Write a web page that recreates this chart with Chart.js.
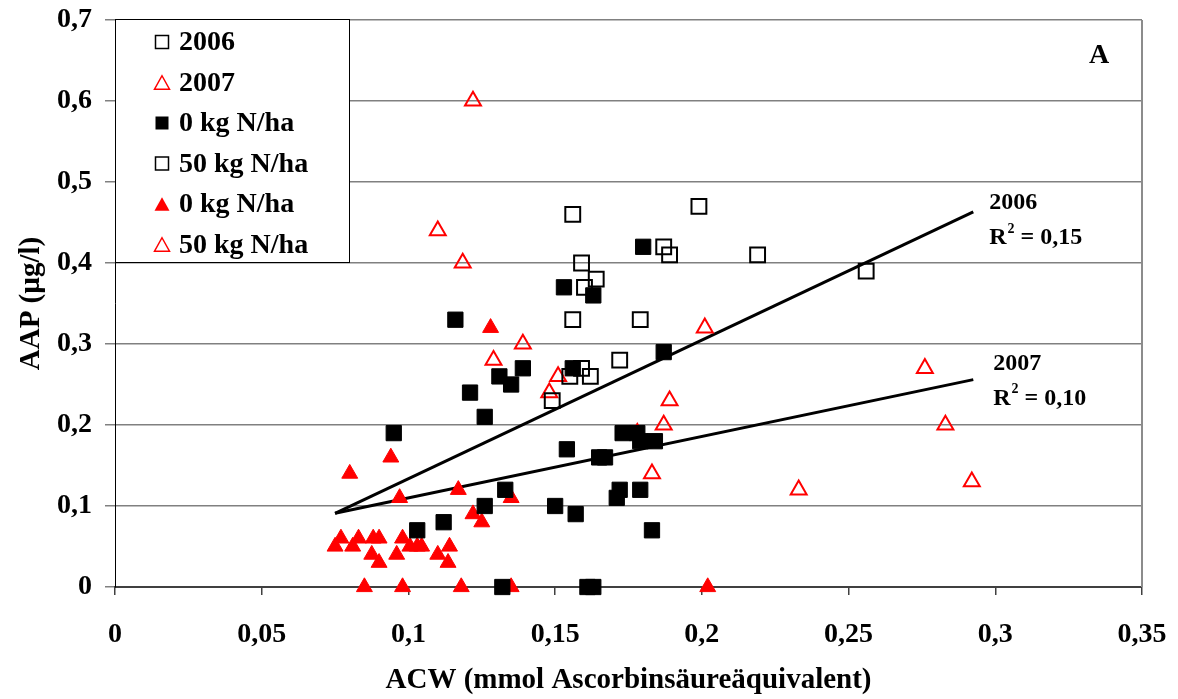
<!DOCTYPE html>
<html>
<head>
<meta charset="utf-8">
<script src="https://cdn.jsdelivr.net/npm/chart.js@4"></script>
<style>
  body { margin: 0; background: #fff; }
  #wrap { width: 1178px; height: 699px; }
</style>
</head>
<body>
<div id="wrap"><canvas id="aapChart"></canvas></div>
<script>
// ACW (x) vs AAP (y)
const x2006n0 = [0.116, 0.139, 0.131, 0.135, 0.121, 0.126, 0.095, 0.156, 0.153, 0.163, 0.180, 0.187, 0.154, 0.165, 0.167, 0.173, 0.178, 0.179, 0.184, 0.172, 0.171, 0.179, 0.133, 0.126, 0.112, 0.103, 0.150, 0.157, 0.183, 0.132, 0.161, 0.163];
const y2006n0 = [0.33, 0.27, 0.26, 0.25, 0.24, 0.21, 0.19, 0.27, 0.37, 0.36, 0.42, 0.29, 0.17, 0.16, 0.16, 0.19, 0.19, 0.18, 0.18, 0.12, 0.11, 0.12, 0.12, 0.10, 0.08, 0.07, 0.10, 0.09, 0.07, 0, 0, 0];

const x2006n50 = [0.156, 0.199, 0.187, 0.189, 0.159, 0.164, 0.160, 0.219, 0.256, 0.156, 0.179, 0.172, 0.159, 0.155, 0.162, 0.149];
const y2006n50 = [0.46, 0.47, 0.42, 0.41, 0.40, 0.38, 0.37, 0.41, 0.39, 0.33, 0.33, 0.28, 0.27, 0.26, 0.26, 0.23];

const x2007n0 = [0.080, 0.094, 0.097, 0.117, 0.135, 0.122, 0.125, 0.128, 0.075, 0.077, 0.081, 0.083, 0.088, 0.090, 0.0875, 0.090, 0.096, 0.098, 0.1005, 0.103, 0.1045, 0.110, 0.114, 0.1135, 0.085, 0.098, 0.118, 0.135, 0.202];
const y2007n0 = [0.14, 0.16, 0.11, 0.12, 0.11, 0.09, 0.08, 0.32, 0.05, 0.06, 0.05, 0.06, 0.06, 0.06, 0.04, 0.03, 0.04, 0.06, 0.05, 0.05, 0.05, 0.04, 0.05, 0.03, 0, 0, 0, 0, 0];

const x2007n50 = [0.122, 0.110, 0.1185, 0.139, 0.129, 0.151, 0.148, 0.201, 0.189, 0.187, 0.178, 0.183, 0.276, 0.283, 0.233, 0.292];
const y2007n50 = [0.60, 0.44, 0.40, 0.30, 0.28, 0.26, 0.24, 0.32, 0.23, 0.20, 0.19, 0.14, 0.27, 0.20, 0.12, 0.13];

// linear trend lines (start / end)
const trendX = [0.075, 0.2925];
const trend2006 = [0.091, 0.463];
const trend2007 = [0.091, 0.256];
const trendLabels = [["2006", "0,15"], ["2007", "0,10"]];

const legendRows = ["2006", "2007", "0 kg N/ha", "50 kg N/ha", "0 kg N/ha", "50 kg N/ha"];

const xTicks = [0, 0.05, 0.1, 0.15, 0.2, 0.25, 0.3, 0.35];
const yTicks = [0, 0.1, 0.2, 0.3, 0.4, 0.5, 0.6, 0.7];

const SERIF = '"Liberation Serif", "Times New Roman", serif';
const RED = '#ff0000';

function pts(xs, ys) {
  return xs.map((x, i) => ({ x: x, y: ys[i] }));
}

function fmt(v) {
  return String(+v.toFixed(2)).replace('.', ',');
}

function marker(ctx, kind, x, y, s, filled, color) {
  ctx.save();
  ctx.beginPath();
  if (kind === 'rect') {
    ctx.rect(x - s / 2, y - s / 2, s, s);
  } else {
    const h = s * 0.9;
    ctx.moveTo(x, y - h / 2);
    ctx.lineTo(x + s / 2, y + h / 2);
    ctx.lineTo(x - s / 2, y + h / 2);
    ctx.closePath();
  }
  if (filled) {
    ctx.fillStyle = color;
    ctx.fill();
  } else {
    ctx.strokeStyle = color;
    ctx.lineWidth = 1.5;
    ctx.stroke();
  }
  ctx.restore();
}

const legendMarks = [
  ['rect', false, '#000'],
  ['triangle', false, RED],
  ['rect', true, '#000'],
  ['rect', false, '#000'],
  ['triangle', true, RED],
  ['triangle', false, RED]
];

const extras = {
  id: 'extras',
  afterDraw(chart) {
    const ctx = chart.ctx;
    const area = chart.chartArea;
    const xs = chart.scales.x, ys = chart.scales.y;

    // right frame line
    ctx.save();
    ctx.strokeStyle = '#8c8c8c';
    ctx.lineWidth = 2;
    ctx.beginPath();
    ctx.moveTo(area.right, area.top);
    ctx.lineTo(area.right, area.bottom);
    ctx.stroke();

    // legend box
    const lx = area.left, ly = area.top - 1, lw = 234, lh = 243;
    ctx.fillStyle = '#fff';
    ctx.fillRect(lx, ly, lw, lh);
    ctx.strokeStyle = '#000';
    ctx.lineWidth = 1;
    ctx.strokeRect(lx + 0.5, ly + 0.5, lw, lh);
    ctx.font = 'bold 28px ' + SERIF;
    ctx.textBaseline = 'middle';
    ctx.textAlign = 'left';
    ctx.fillStyle = '#000';
    legendRows.forEach((t, i) => {
      const cy = ly + 23 + i * 40.5;
      const m = legendMarks[i];
      marker(ctx, m[0], lx + 47, cy, m[0] === 'rect' ? 13 : 15, m[1], m[2]);
      ctx.fillStyle = '#000';
      ctx.fillText(t, lx + 64, cy + 1);
    });

    // panel letter
    ctx.font = 'bold 28px ' + SERIF;
    ctx.textAlign = 'center';
    ctx.fillText('A', area.right - 43, area.top + 36);

    // trend line labels
    ctx.textAlign = 'left';
    const ends = [trend2006[1], trend2007[1]];
    const offs = [-9, -16];
    trendLabels.forEach((lab, i) => {
      const px = xs.getPixelForValue(trendX[1]);
      const py = ys.getPixelForValue(ends[i]);
      const tx = px + 16 + i * 4;
      ctx.font = 'bold 24px ' + SERIF;
      ctx.fillText(lab[0], tx, py + offs[i]);
      const ry = py + offs[i] + 35;
      ctx.fillText('R', tx, ry);
      const rw = ctx.measureText('R').width;
      ctx.font = 'bold 14px ' + SERIF;
      ctx.fillText('2', tx + rw + 1, ry - 9);
      ctx.font = 'bold 24px ' + SERIF;
      ctx.fillText(' = ' + lab[1], tx + rw + 8, ry);
    });
    ctx.restore();
  }
};

const ctx = document.getElementById('aapChart');
new Chart(ctx, {
  type: 'scatter',
  data: {
    datasets: [
      {
        label: '2006 0 kg N/ha',
        data: pts(x2006n0, y2006n0),
        pointStyle: 'rect',
        pointRadius: 10.8,
        backgroundColor: '#000',
        borderColor: '#000',
        borderWidth: 1,
        clip: false
      },
      {
        label: '2006 50 kg N/ha',
        data: pts(x2006n50, y2006n50),
        pointStyle: 'rect',
        pointRadius: 10.5,
        backgroundColor: 'rgba(0,0,0,0)',
        borderColor: '#000',
        borderWidth: 2,
        clip: false
      },
      {
        label: '2007 0 kg N/ha',
        data: pts(x2007n0, y2007n0),
        pointStyle: 'triangle',
        pointRadius: 9.2,
        backgroundColor: RED,
        borderColor: RED,
        borderWidth: 1,
        clip: false
      },
      {
        label: '2007 50 kg N/ha',
        data: pts(x2007n50, y2007n50),
        pointStyle: 'triangle',
        pointRadius: 9.2,
        backgroundColor: 'rgba(0,0,0,0)',
        borderColor: RED,
        borderWidth: 2,
        clip: false
      },
      {
        label: 'Trend 2006',
        data: pts(trendX, trend2006),
        showLine: true,
        pointRadius: 0,
        borderColor: '#000',
        borderWidth: 3
      },
      {
        label: 'Trend 2007',
        data: pts(trendX, trend2007),
        showLine: true,
        pointRadius: 0,
        borderColor: '#000',
        borderWidth: 3
      }
    ]
  },
  options: {
    responsive: true,
    maintainAspectRatio: false,
    animation: false,
    layout: { padding: { top: 20, right: 36, left: 0, bottom: 0 } },
    plugins: {
      legend: { display: false },
      tooltip: { enabled: false }
    },
    scales: {
      x: {
        type: 'linear',
        min: 0,
        max: 0.35,
        afterBuildTicks: s => { s.ticks = xTicks.map(v => ({ value: v })); },
        afterFit: s => { s.height = 112; s.paddingLeft = 0; s.paddingRight = 0; },
        grid: {
          drawOnChartArea: false,
          drawTicks: true,
          tickLength: 8,
          color: '#404040',
          lineWidth: 1.5
        },
        border: { color: '#404040', width: 2 },
        ticks: {
          padding: 23,
          color: '#000',
          font: { family: SERIF, size: 28, weight: 'bold' },
          callback: v => fmt(v)
        },
        title: {
          display: true,
          text: 'ACW (mmol Ascorbinsäureäquivalent)',
          color: '#000',
          font: { family: SERIF, size: 29, weight: 'bold' },
          padding: { top: 0, bottom: 1 }
        }
      },
      y: {
        type: 'linear',
        min: 0,
        max: 0.7,
        afterBuildTicks: s => { s.ticks = yTicks.map(v => ({ value: v })); },
        afterFit: s => { s.width = 115; s.paddingTop = 0; s.paddingBottom = 0; },
        grid: {
          color: '#808080',
          lineWidth: 1.5,
          tickLength: 10
        },
        border: { color: '#000', width: 1 },
        ticks: {
          padding: 13,
          color: '#000',
          font: { family: SERIF, size: 28, weight: 'bold' },
          callback: v => fmt(v)
        },
        title: {
          display: true,
          text: 'AAP (µg/l)',
          color: '#000',
          font: { family: SERIF, size: 29, weight: 'bold' },
          padding: { top: 14, bottom: 0 }
        }
      }
    }
  },
  plugins: [extras]
});
</script>
</body>
</html>
